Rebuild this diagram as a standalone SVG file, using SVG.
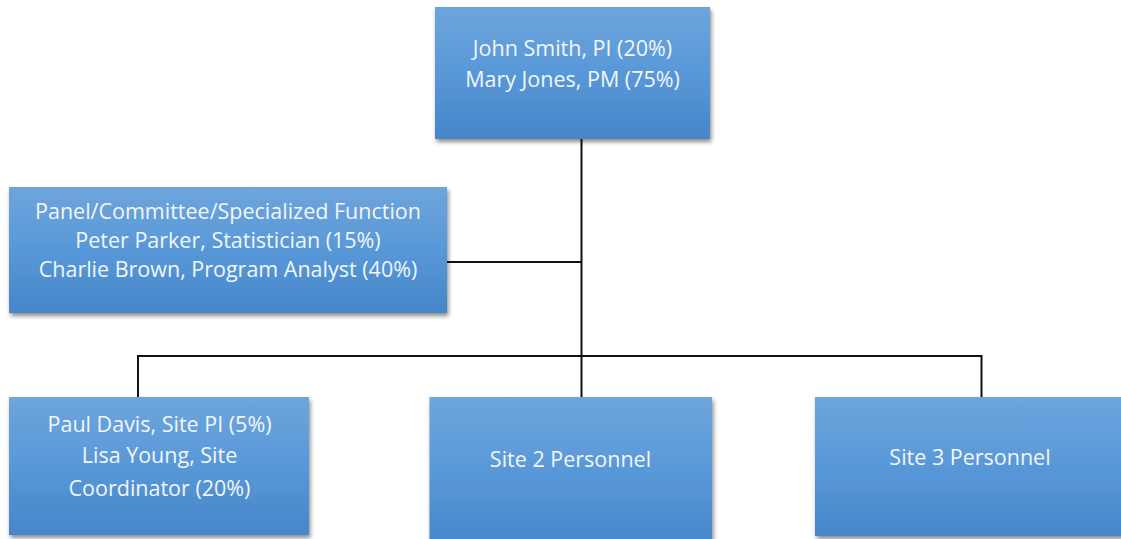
<svg xmlns="http://www.w3.org/2000/svg" width="1121" height="539" viewBox="0 0 1121 539">
<defs>
<linearGradient id="g" x1="0" y1="0" x2="0" y2="1">
<stop offset="0" stop-color="#6ea5dc"/>
<stop offset="0.5" stop-color="#5898d8"/>
<stop offset="1" stop-color="#4686c9"/>
</linearGradient>
<filter id="sh" x="-10%" y="-10%" width="120%" height="130%">
<feDropShadow dx="1.5" dy="3" stdDeviation="2" flood-color="#000" flood-opacity="0.45"/>
</filter>
</defs>
<style>
.box{fill:url(#g);filter:url(#sh);}
.t{font-family:"Open Sans","Liberation Sans",sans-serif;font-size:21.5px;fill:#f2f6fb;text-anchor:middle;}
.c{stroke:#111;stroke-width:2;fill:none;}
</style>
<rect width="1121" height="539" fill="#fff"/>
<g id="connectors">
<line class="c" x1="581.5" y1="139" x2="581.5" y2="397"/>
<line class="c" x1="447" y1="262" x2="581.5" y2="262"/>
<polyline class="c" points="138,397 138,356 981.5,356 981.5,397"/>
</g>
<g id="n_top">
<rect class="box" x="435" y="7" width="275" height="132"/>
<text class="t" x="572.5" y="56">John Smith, PI (20%)</text>
<text class="t" x="572.5" y="87">Mary Jones, PM (75%)</text>
</g>
<g id="n_panel">
<rect class="box" x="9" y="187" width="438" height="126"/>
<text class="t" x="228" y="219">Panel/Committee/Specialized Function</text>
<text class="t" x="228" y="248">Peter Parker, Statistician (15%)</text>
<text class="t" x="228" y="277">Charlie Brown, Program Analyst (40%)</text>
</g>
<g id="n_site1">
<rect class="box" x="9" y="397" width="300" height="138"/>
<text class="t" x="159.5" y="432">Paul Davis, Site PI (5%)</text>
<text class="t" x="159.5" y="463">Lisa Young, Site</text>
<text class="t" x="159.5" y="496">Coordinator (20%)</text>
</g>
<g id="n_site2">
<rect class="box" x="429.5" y="397" width="282.5" height="150"/>
<text class="t" x="570.5" y="467">Site 2 Personnel</text>
</g>
<g id="n_site3">
<rect class="box" x="815" y="397" width="310" height="139"/>
<text class="t" x="970" y="465">Site 3 Personnel</text>
</g>
</svg>
